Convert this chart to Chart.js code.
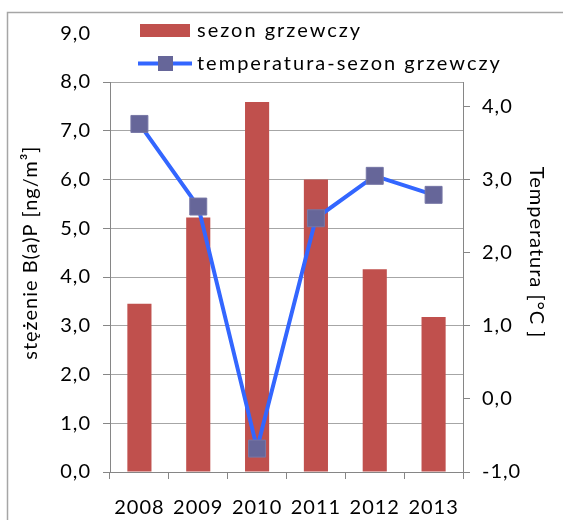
<!DOCTYPE html>
<html>
<head>
<meta charset="utf-8">
<script src="https://cdn.jsdelivr.net/npm/chart.js@4.4.1/dist/chart.umd.min.js"></script>
<style>
  html, body { margin: 0; padding: 0; background: #fff; }
  #wrap { position: relative; width: 563px; height: 520px; overflow: hidden; }
</style>
</head>
<body>
<div id="wrap"><canvas id="chart" width="563" height="520"></canvas></div>
<script>
const years = ['2008', '2009', '2010', '2011', '2012', '2013'];
const bapValues = [3.45, 5.22, 7.59, 6.00, 4.16, 3.18];
const tempValues = [3.76, 2.63, -0.68, 2.47, 3.05, 2.79];
const bapRange = [0, 9];
const tempRange = [-1, 5];
const seriesNames = ['sezon grzewczy', 'temperatura-sezon grzewczy'];
const axisTitles = ['stężenie B(a)P [ng/m³]', 'Temperatura [°C ]'];

const font = { family: 'Lato', size: 20 };
const fmt = v => v.toFixed(1).replace('.', ',');

// ramka, biała "zasłona" pod legendą i sama legenda
const frame = {
    id: 'frame',
    beforeUpdate(chart) {
        chart.ctx.letterSpacing = '1px';
    },
    beforeDraw(chart) {
        const ctx = chart.ctx;
        ctx.letterSpacing = '1px';
        ctx.save();
        ctx.strokeStyle = '#a6a6a6';
        ctx.lineWidth = 1.5;
        ctx.beginPath();
        ctx.moveTo(7.5, chart.height);
        ctx.lineTo(7.5, 12.5);
        ctx.lineTo(chart.width, 12.5);
        ctx.stroke();
        ctx.restore();
    },
    afterDraw(chart) {
        const ctx = chart.ctx;
        const y = chart.scales.y;
        const y8 = Math.floor(y.getPixelForValue(8));
        ctx.save();
        ctx.fillStyle = '#fff';
        ctx.fillRect(y.right - 14, 14, 440, y8 - 14);

        const bar = chart.data.datasets[0];
        const line = chart.data.datasets[1];
        ctx.letterSpacing = '2px';
        ctx.font = '20px Lato';
        ctx.textBaseline = 'middle';
        ctx.fillStyle = '#000';

        ctx.fillStyle = bar.backgroundColor;
        ctx.fillRect(140, 24, 50, 13);
        ctx.fillStyle = '#000';
        ctx.fillText(bar.label, 197, 31);

        ctx.strokeStyle = line.borderColor;
        ctx.lineWidth = 4;
        ctx.beginPath();
        ctx.moveTo(138, 63.5);
        ctx.lineTo(192, 63.5);
        ctx.stroke();
        ctx.fillStyle = line.pointBackgroundColor;
        ctx.fillRect(158, 56, 15, 15);
        ctx.fillStyle = '#000';
        ctx.fillText(line.label, 197, 64);
        ctx.restore();
    }
};

function makeChart() {
    const ctx = document.getElementById('chart').getContext('2d');
    new Chart(ctx, {
        type: 'bar',
        data: {
            labels: years,
            datasets: [{
                type: 'bar',
                label: seriesNames[0],
                data: bapValues,
                backgroundColor: '#C0504D',
                barPercentage: 0.41,
                categoryPercentage: 1,
                yAxisID: 'y',
                order: 1
            }, {
                type: 'line',
                label: seriesNames[1],
                data: tempValues,
                borderColor: '#3366FF',
                borderWidth: 4,
                pointStyle: 'rect',
                pointRadius: 12,
                pointBackgroundColor: '#666699',
                pointBorderColor: '#7777a6',
                pointBorderWidth: 1,
                tension: 0,
                yAxisID: 'y1',
                order: 0
            }]
        },
        options: {
            responsive: false,
            animation: false,
            events: [],
            layout: { padding: { left: 8, right: 0, top: 33.25, bottom: 0 } },
            plugins: {
                legend: { display: false },
                tooltip: { enabled: false }
            },
            scales: {
                x: {
                    offset: true,
                    grid: { offset: true, drawOnChartArea: false, tickLength: 7, color: '#868686' },
                    border: { color: '#868686' },
                    ticks: { color: '#000', font: font, padding: 17, maxRotation: 0, autoSkip: false },
                    afterFit(s) { s.height = 48; }
                },
                y: {
                    position: 'left',
                    min: bapRange[0],
                    max: bapRange[1],
                    ticks: { stepSize: 1, color: '#000', font: font, padding: 12, callback: fmt },
                    grid: { color: '#a6a6a6', tickColor: '#868686', tickLength: 7 },
                    border: { color: '#868686' },
                    title: { display: true, text: axisTitles[0], color: '#000', font: font, padding: { top: 11, bottom: 0 } },
                    afterFit(s) { s.width = 102; }
                },
                y1: {
                    position: 'right',
                    min: tempRange[0],
                    max: tempRange[1],
                    ticks: { stepSize: 1, color: '#000', font: font, padding: 12, callback: fmt },
                    grid: { drawOnChartArea: false, tickColor: '#868686', tickLength: 7 },
                    border: { color: '#868686' },
                    title: { display: true, text: axisTitles[1], color: '#000', font: font, padding: { top: 15, bottom: 0 } },
                    afterFit(s) { s.width = 100; }
                }
            }
        },
        plugins: [frame]
    });
}

document.fonts.load('20px Lato').then(makeChart, makeChart);
</script>
</body>
</html>
